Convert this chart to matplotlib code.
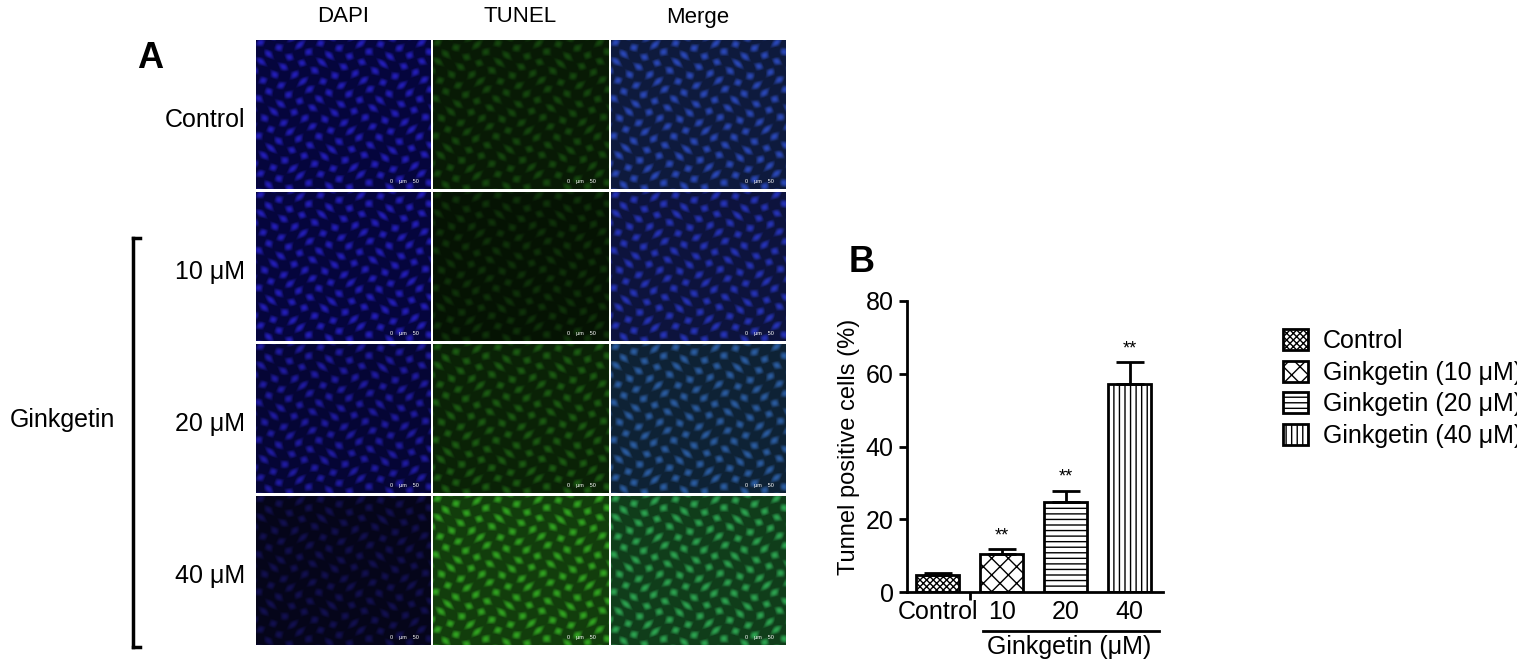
import numpy as np
import matplotlib.pyplot as plt

# bar chart data
categories = ['Control', '10', '20', '40']
legend_labels = ['Control', 'Ginkgetin (10 μM)', 'Ginkgetin (20 μM)', 'Ginkgetin (40 μM)']
values = [4.8, 10.5, 24.7, 57.3]
errors = [0.5, 1.2, 3.0, 5.8]
hatches = ['xxxxx', 'xx', '---', '|||']

# micrograph panel labels
col_labels = ['DAPI', 'TUNEL', 'Merge']
row_labels = ['Control', '10 μM', '20 μM', '40 μM']

W, H = 1517, 664
fig = plt.figure(figsize=(W / 100, H / 100), dpi=100)
plt.rcParams['font.family'] = ['Liberation Sans', 'DejaVu Sans']

def fx(px):
    return px / W

def fy(py):
    return 1 - py / H

# texture for stand-in micrographs
yy, xx = np.mgrid[0:150, 0:175]
cells = np.clip(np.sin(xx / 3.2 + np.sin(yy / 7.0)) * np.sin(yy / 3.0 + np.cos(xx / 9.0)), 0, 1)

def panel(col, row):
    t = cells
    if col == 0:
        k = [0.8, 0.8, 0.7, 0.35][row]
        return np.dstack([0.15 * t * k + 0.02, 0.12 * t * k + 0.02, (0.3 + 0.6 * t) * k])
    if col == 1:
        k = [0.35, 0.25, 0.45, 0.8][row]
        g = (0.3 + 0.5 * t) * k
        return np.dstack([0.3 * g, g, 0.2 * g])
    b = [0.8, 0.8, 0.7, 0.35][row] * (0.3 + 0.6 * t)
    g = [0.35, 0.25, 0.45, 0.8][row] * (0.3 + 0.5 * t)
    return np.clip(np.dstack([0.15 * b + 0.2 * g, g, b]), 0, 1)

col_x = [256, 433, 611]
row_y = [40, 192, 344, 496]
for c, x0 in enumerate(col_x):
    for r, y0 in enumerate(row_y):
        ax = fig.add_axes([fx(x0), fy(y0 + 149), fx(175), 149 / H])
        ax.imshow(panel(c, r), aspect='auto')
        ax.set_xticks([])
        ax.set_yticks([])
        for s in ax.spines.values():
            s.set_visible(False)
        ax.text(0.85, 0.04, '0    μm    50', transform=ax.transAxes, fontsize=4,
                color='white', ha='center')
    fig.text(fx(x0 + 87), fy(17), col_labels[c], ha='center', va='center', fontsize=16)

for r, y0 in enumerate(row_y):
    fig.text(fx(245), fy(y0 + 80), row_labels[r], ha='right', va='center', fontsize=18)
fig.text(fx(62), fy(420), 'Ginkgetin', ha='center', va='center', fontsize=18)
fig.add_artist(plt.Line2D([fx(133), fx(133)], [fy(238), fy(647)], color='black', lw=2.5))
fig.add_artist(plt.Line2D([fx(133), fx(140)], [fy(238), fy(238)], color='black', lw=2.5))
fig.add_artist(plt.Line2D([fx(133), fx(140)], [fy(647), fy(647)], color='black', lw=2.5))
fig.text(fx(150), fy(58), 'A', ha='center', va='center', fontsize=26, fontweight='bold')
fig.text(fx(862), fy(263), 'B', ha='center', va='center', fontsize=26, fontweight='bold')

# bar chart
plt.rcParams['hatch.linewidth'] = 1.0
ax = fig.add_axes([fx(907), fy(592), fx(256), (592 - 301) / H])
x = np.arange(len(values))
bars = ax.bar(x, values, width=0.67, color='white', edgecolor='black', linewidth=2,
              hatch=hatches, label=legend_labels)
ax.errorbar(x, values, yerr=[np.zeros(4), errors], fmt='none', ecolor='black',
            elinewidth=2, capsize=10, capthick=2)
for i in range(1, 4):
    ax.text(x[i], values[i] + errors[i] + 1.5, '**', ha='center', va='bottom', fontsize=13)
ax.set_ylim(0, 80)
ax.set_xlim(-0.48, 3.52)
ax.set_yticks([0, 20, 40, 60, 80])
ax.set_xticks([0.5], [''])
for i, c in enumerate(categories):
    ax.text(x[i], -5.5, c, ha='center', va='center', fontsize=18)
ax.spines['top'].set_visible(False)
ax.spines['right'].set_visible(False)
ax.spines['left'].set_linewidth(2)
ax.spines['bottom'].set_linewidth(2)
ax.tick_params(width=2, length=6, labelsize=18)
ax.set_ylabel('Tunnel positive cells (%)', fontsize=17, labelpad=4)
ax.plot([0.7, 3.45], [-10.6, -10.6], color='black', lw=2, clip_on=False)
ax.text(2.05, -15.2, 'Ginkgetin (μM)', ha='center', va='center', fontsize=18)
ax.legend(loc='upper left', bbox_to_anchor=(1.38, 0.98), frameon=False, fontsize=18,
          handlelength=1.0, handleheight=0.9, handletextpad=0.6, labelspacing=0.3)

fig.savefig('out.png', dpi=100)
